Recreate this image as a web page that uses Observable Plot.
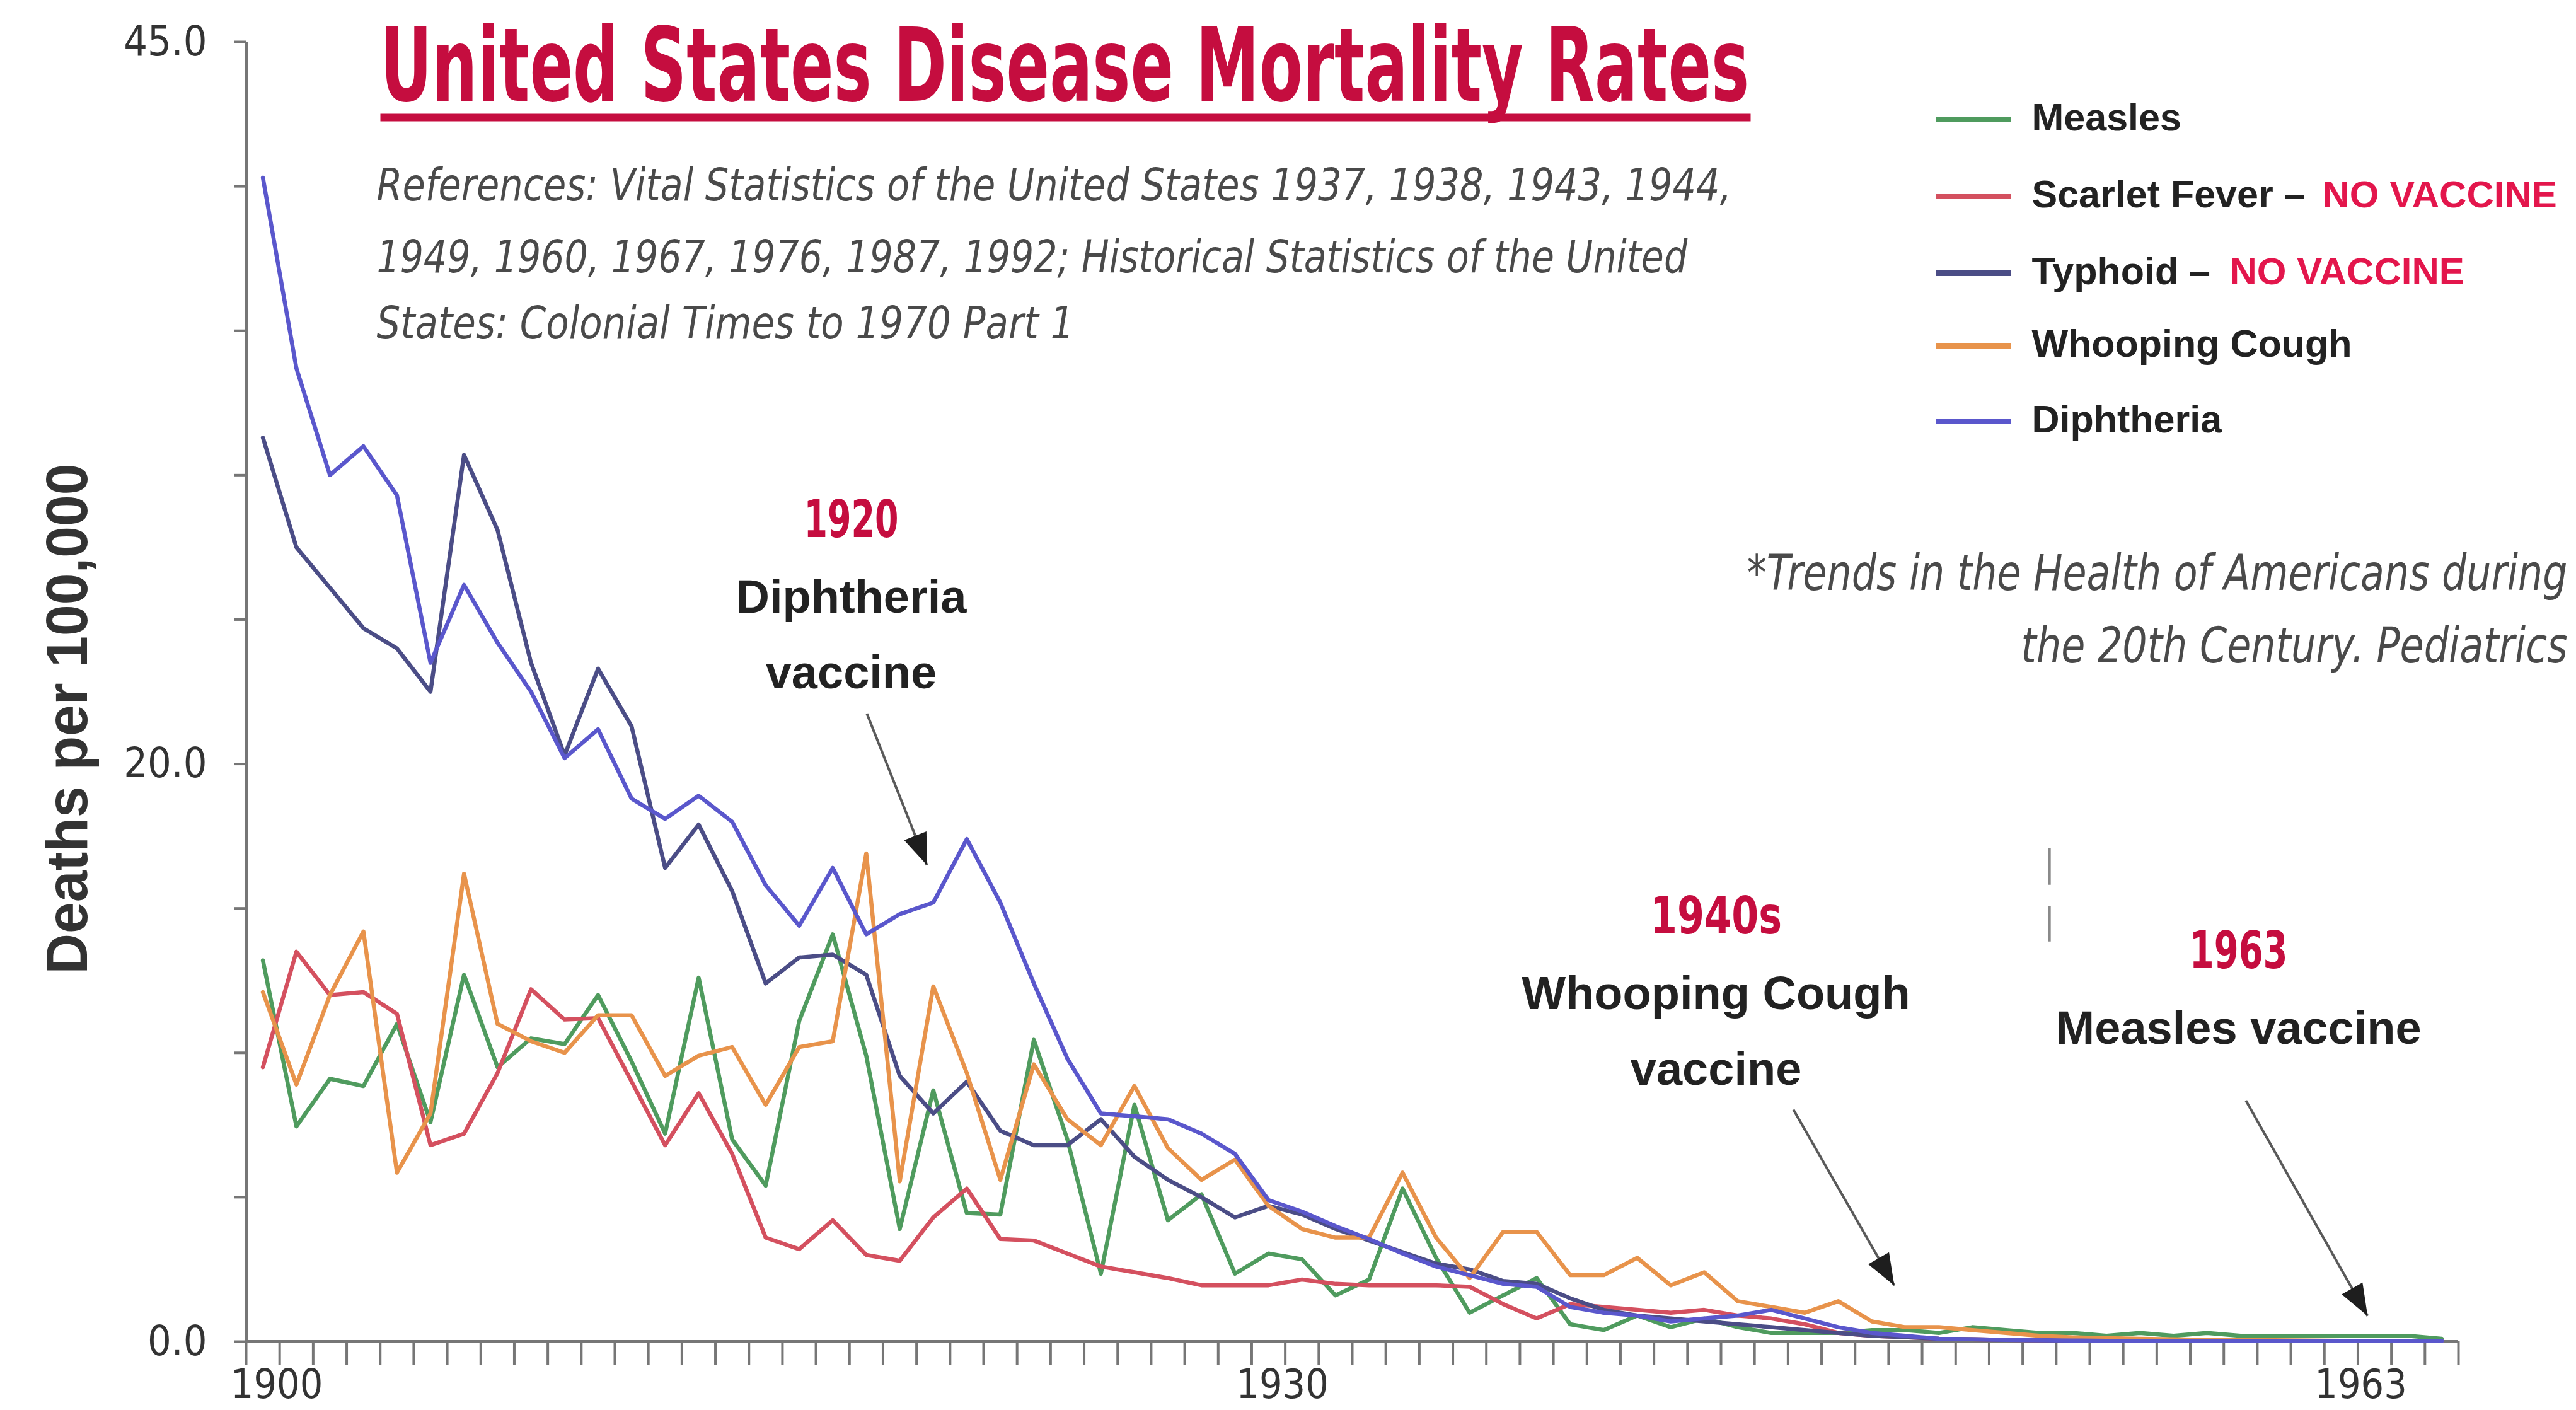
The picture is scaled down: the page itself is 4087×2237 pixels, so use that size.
<!DOCTYPE html>
<html>
<head>
<meta charset="utf-8">
<script src="https://cdn.jsdelivr.net/npm/d3@7"></script>
<script src="https://cdn.jsdelivr.net/npm/@observablehq/plot@0.6"></script>
<style>
  html, body { margin: 0; padding: 0; background: #fff; }
  #chart { width: 4087px; height: 2237px; overflow: hidden; background: #fff; }
  g[aria-label$="-axis tick"] > * { stroke: #767676; stroke-width: 4px; }
</style>
</head>
<body>
<div id="chart"></div>
<script>
// ---------------- DATA ----------------
const years = d3.range(1900, 1966);
const diseases = ["Measles", "Scarlet Fever", "Typhoid", "Whooping Cough", "Diphtheria"];

const measles = [
  13.2, 7.45, 9.1, 8.85, 11.0, 7.6, 12.7, 9.5, 10.5, 10.3,
  12.0, 9.7, 7.2, 12.6, 7.0, 5.4, 11.1, 14.1, 9.9, 3.9,
  8.7, 4.45, 4.4, 10.45, 7.0, 2.35, 8.2, 4.2, 5.1, 2.35,
  3.05, 2.85, 1.6, 2.15, 5.3, 2.9, 1.0, 1.6, 2.2, 0.6,
  0.4, 0.9, 0.5, 0.8, 0.5, 0.3, 0.3, 0.3, 0.4, 0.4,
  0.3, 0.5, 0.4, 0.3, 0.3, 0.2, 0.3, 0.2, 0.3, 0.2,
  0.2, 0.2, 0.2, 0.2, 0.2, 0.1
];
const scarletFever = [
  9.5, 13.5, 12.0, 12.1, 11.35, 6.8, 7.2, 9.3, 12.2, 11.15,
  11.2, 9.0, 6.8, 8.6, 6.5, 3.6, 3.2, 4.2, 3.0, 2.8,
  4.3, 5.3, 3.55, 3.5, 3.05, 2.6, 2.4, 2.2, 1.95, 1.95,
  1.95, 2.15, 2.0, 1.95, 1.95, 1.95, 1.9, 1.3, 0.8, 1.3,
  1.2, 1.1, 1.0, 1.1, 0.9, 0.8, 0.6, 0.3, 0.2, 0.15,
  0.1, 0.08, 0.06, 0.05, 0.04, 0.03, 0.03, 0.03, 0.02, 0.02,
  0.02, 0.02, 0.02, 0.02, 0.02, 0.02
];
const typhoid = [
  31.3, 27.5, 26.1, 24.7, 24.0, 22.5, 30.7, 28.1, 23.5, 20.3,
  23.3, 21.3, 16.4, 17.9, 15.6, 12.4, 13.3, 13.4, 12.7, 9.2,
  7.9, 9.0, 7.3, 6.8, 6.8, 7.7, 6.4, 5.6, 5.0, 4.3,
  4.7, 4.4, 3.9, 3.5, 3.1, 2.7, 2.5, 2.1, 2.0, 1.5,
  1.1, 0.9, 0.8, 0.7, 0.6, 0.5, 0.4, 0.3, 0.2, 0.15,
  0.1, 0.08, 0.06, 0.05, 0.04, 0.03, 0.03, 0.03, 0.02, 0.02,
  0.02, 0.02, 0.02, 0.02, 0.02, 0.02
];
const whoopingCough = [
  12.1, 8.9, 12.0, 14.2, 5.85, 7.9, 16.2, 11.0, 10.4, 10.0,
  11.3, 11.3, 9.2, 9.9, 10.2, 8.2, 10.2, 10.4, 16.9, 5.55,
  12.3, 9.3, 5.6, 9.6, 7.7, 6.8, 8.85, 6.7, 5.6, 6.3,
  4.7, 3.9, 3.6, 3.6, 5.85, 3.6, 2.2, 3.8, 3.8, 2.3,
  2.3, 2.9, 1.95, 2.4, 1.4, 1.2, 1.0, 1.4, 0.7, 0.5,
  0.5, 0.4, 0.3, 0.2, 0.15, 0.12, 0.1, 0.08, 0.06, 0.05,
  0.05, 0.04, 0.03, 0.03, 0.03, 0.02
];
const diphtheria = [
  40.3, 33.7, 30.0, 31.0, 29.3, 23.5, 26.2, 24.2, 22.5, 20.2,
  21.2, 18.8, 18.1, 18.9, 18.0, 15.8, 14.4, 16.4, 14.1, 14.8,
  15.2, 17.4, 15.2, 12.4, 9.8, 7.9, 7.8, 7.7, 7.2, 6.5,
  4.9, 4.5, 4.0, 3.55, 3.05, 2.6, 2.3, 2.0, 1.9, 1.2,
  1.0, 0.9, 0.7, 0.8, 0.9, 1.1, 0.8, 0.5, 0.3, 0.2,
  0.1, 0.08, 0.06, 0.05, 0.04, 0.03, 0.03, 0.03, 0.02, 0.02,
  0.02, 0.02, 0.02, 0.02, 0.02, 0.02
];

const yTicks = d3.range(0, 46, 5);
const yTickLabels = [0, 20, 45];
const xTickLabels = [1900, 1930, 1963];

const titleText = "United States Disease Mortality Rates";
const referenceLines = [
  "References: Vital Statistics of the United States 1937, 1938, 1943, 1944,",
  "1949, 1960, 1967, 1976, 1987, 1992; Historical Statistics of the United",
  "States: Colonial Times to 1970 Part 1"
];
const citationLines = [
  "*Trends in the Health of Americans during",
  "the 20th Century. Pediatrics"
];
const legendNames = ["Measles", "Scarlet Fever –", "Typhoid –", "Whooping Cough", "Diphtheria"];
const legendNotes = ["", "NO VACCINE", "NO VACCINE", "", ""];
const yLabel = "Deaths per 100,000";

// vaccine annotations (anchored at year / rate)
const noteYears = ["1920", "1940s", "1963"];
const noteLines = [["Diphtheria", "vaccine"], ["Whooping Cough", "vaccine"], ["Measles vaccine"]];
const noteAnchors = [
  {year: 1917.55, value: 27.85},
  {year: 1943.35, value: 14.12},
  {year: 1958.94, value: 12.94}
];
const arrows = [
  {x1: 1918.02, y1: 21.74, x2: 1919.81, y2: 16.5},
  {x1: 1945.66, y1: 8.03, x2: 1948.67, y2: 1.94},
  {x1: 1959.16, y1: 8.34, x2: 1962.79, y2: 0.89}
];
const dashMark = [{year: 1953.3, from: 17.07, to: 13.84}];

// ---------------- STYLE / LAYOUT ----------------
const W = 4087, H = 2237;
const ML = 390, MR = 187, MT = 66, MB = 109;
const xDomain = [1899.5, 1965.5];
const yDomain = [0, 45];
const lineColors = ["#4f9b5e", "#d4505f", "#4b4d86", "#e8934b", "#5a57cc"];
const RED = "#c50d3f";
const RED2 = "#e3164c";
const NARROW = "'Liberation Sans Narrow', 'Arial Narrow', 'DejaVu Sans Condensed', 'Liberation Sans', sans-serif";
const SANS = "'Liberation Sans', Arial, 'DejaVu Sans', sans-serif";

const kx = (W - ML - MR) / (xDomain[1] - xDomain[0]);
const ky = (H - MT - MB) / (yDomain[1] - yDomain[0]);

const rows = diseases.flatMap((name, i) => {
  const s = [measles, scarletFever, typhoid, whoopingCough, diphtheria][i];
  return years.map((year, j) => ({disease: name, year, value: s[j]}));
});

const P = (px, py) => ({frameAnchor: "top-left", dx: px - ML, dy: py - MT});
const bar = (w, h) => ({draw(ctx) { ctx.rect(-w / 2, -h / 2, w, h); }});
const head = (angle) => {
  const L = 50, Wd = 19, c = Math.cos(angle), s = Math.sin(angle);
  return {draw(ctx) {
    ctx.moveTo(0, 0);
    ctx.lineTo(-L * c - Wd * s, -L * s + Wd * c);
    ctx.lineTo(-L * c + Wd * s, -L * s - Wd * c);
    ctx.closePath();
  }};
};
const txt = (s, px, py, o) => Plot.text([s], {text: d => d, ...P(px, py), ...o});

const marks = [];

// axes
marks.push(Plot.axisY({ticks: yTicks, tickSize: 18, tickFormat: () => "", label: null}));
marks.push(Plot.axisX({ticks: d3.range(xDomain[0], xDomain[1] + 0.01, 1), tickSize: 37, tickFormat: () => "", label: null}));
marks.push(Plot.ruleX([xDomain[0]], {y1: yDomain[0], y2: yDomain[1], stroke: "#767676", strokeWidth: 5}));
marks.push(Plot.ruleY([yDomain[0]], {x1: xDomain[0], x2: xDomain[1], stroke: "#767676", strokeWidth: 5}));
marks.push(Plot.text(yTickLabels, {y: d => d, text: d => d.toFixed(1), frameAnchor: "left", dx: -62,
  textAnchor: "end", lineAnchor: "middle", fontSize: 66, fontFamily: NARROW, fill: "#333"}));
const xLabelShift = [22, 22, -22];
xTickLabels.forEach((yr, i) => marks.push(Plot.text([yr], {x: d => d, text: d => String(d), frameAnchor: "bottom",
  dy: 44, dx: xLabelShift[i], textAnchor: "middle", lineAnchor: "top", fontSize: 64, fontFamily: NARROW, fill: "#333"})));
marks.push(txt(yLabel, 108, 1140, {rotate: -90, textAnchor: "middle", lineAnchor: "middle",
  fontSize: 93, fontWeight: "bold", fontFamily: SANS, fill: "#333"}));

// data lines
marks.push(Plot.line(rows, {x: "year", y: "value", z: "disease", stroke: "disease",
  strokeWidth: 6.5, strokeLinejoin: "round", strokeLinecap: "round"}));

// title
marks.push(txt(titleText, 603, 159, {textAnchor: "start", lineAnchor: "bottom", fontSize: 162,
  fontWeight: "bold", fontFamily: NARROW, fill: RED}));
marks.push(Plot.dot([0], {...P(1690, 186), symbol: bar(2174, 12), r: 1, fill: RED, stroke: "none"}));

// references
const refBase = [317, 431, 536];
referenceLines.forEach((s, i) => marks.push(txt(s, 597, refBase[i], {textAnchor: "start", lineAnchor: "bottom",
  fontSize: 72, fontStyle: "italic", fontFamily: NARROW, fill: "#4a4a4a"})));

// citation
const citeBase = [935, 1050];
citationLines.forEach((s, i) => marks.push(txt(s, 4073, citeBase[i], {textAnchor: "end", lineAnchor: "bottom",
  fontSize: 78, fontStyle: "italic", fontFamily: NARROW, fill: "#4a4a4a"})));

// legend
const legY = [187, 309, 431, 546, 666];
const legNoteX = [0, 3684, 3537, 0, 0];
diseases.forEach((d, i) => {
  marks.push(Plot.dot([0], {...P(3130, legY[i] + 2), symbol: bar(119, 9), r: 1, fill: lineColors[i], stroke: "none"}));
  marks.push(txt(legendNames[i], 3223, legY[i], {textAnchor: "start", lineAnchor: "middle",
    fontSize: 61, fontWeight: "bold", fontFamily: SANS, fill: "#222"}));
  if (legendNotes[i]) marks.push(txt(legendNotes[i], legNoteX[i], legY[i], {textAnchor: "start", lineAnchor: "middle",
    fontSize: 60, fontWeight: "bold", fontFamily: SANS, fill: RED2}));
});

// vaccine annotations
noteAnchors.forEach((a, i) => {
  marks.push(Plot.text([a], {x: "year", y: "value", text: () => noteYears[i], textAnchor: "middle",
    lineAnchor: "bottom", fontSize: 82, fontWeight: "bold", fontFamily: NARROW, fill: RED}));
  noteLines[i].forEach((s, k) => marks.push(Plot.text([a], {x: "year", y: "value", text: () => s,
    dy: 120 * (k + 1), textAnchor: "middle", lineAnchor: "bottom", fontSize: 74, fontWeight: "bold",
    fontFamily: SANS, fill: "#222"})));
});
marks.push(Plot.link(arrows, {x1: "x1", y1: "y1", x2: "x2", y2: "y2", stroke: "#5a5a5a", strokeWidth: 4}));
arrows.forEach(a => {
  const ang = Math.atan2(-(a.y2 - a.y1) * ky, (a.x2 - a.x1) * kx);
  marks.push(Plot.dot([a], {x: "x2", y: "y2", symbol: head(ang), r: 1, fill: "#1e1e1e", stroke: "none"}));
});
marks.push(Plot.ruleX(dashMark, {x: "year", y1: "from", y2: "to", stroke: "#8a8a8a", strokeWidth: 4,
  strokeDasharray: "58 34"}));

const svg = Plot.plot({
  width: W, height: H,
  marginLeft: ML, marginRight: MR, marginTop: MT, marginBottom: MB,
  x: {domain: xDomain},
  y: {domain: yDomain},
  color: {domain: diseases, range: lineColors},
  style: {background: "#fff", fontFamily: SANS, overflow: "visible"},
  marks
});
document.getElementById("chart").appendChild(svg);

// fit the condensed lettering of the reference: shrink the font to the target width,
// then stretch vertically back to the original letter height
const fit = new Map([
  [titleText, 2172],
  [referenceLines[0], 2150], [referenceLines[1], 2080], [referenceLines[2], 1107],
  [citationLines[0], 1302], [citationLines[1], 867],
  [yLabel, 810],
  ["1920", 150], ["1940s", 209], ["1963|82", 156]
]);
d3.select(svg).selectAll("text").each(function () {
  const f = parseFloat(getComputedStyle(this).fontSize);
  const w = fit.get(this.textContent + "|" + Math.round(f)) ?? fit.get(this.textContent);
  if (!w || (this.textContent === "1963" && Math.round(f) !== 82)) return;
  const natural = this.getComputedTextLength();
  if (!natural) return;
  const r = w / natural;
  const t = this.getAttribute("transform") || "";
  if (r < 1) {
    this.style.fontSize = (f * r) + "px";
    this.setAttribute("transform", `${t} scale(1,${1 / r})`);
  } else {
    this.setAttribute("transform", `${t} scale(${r},1)`);
  }
});
</script>
</body>
</html>
